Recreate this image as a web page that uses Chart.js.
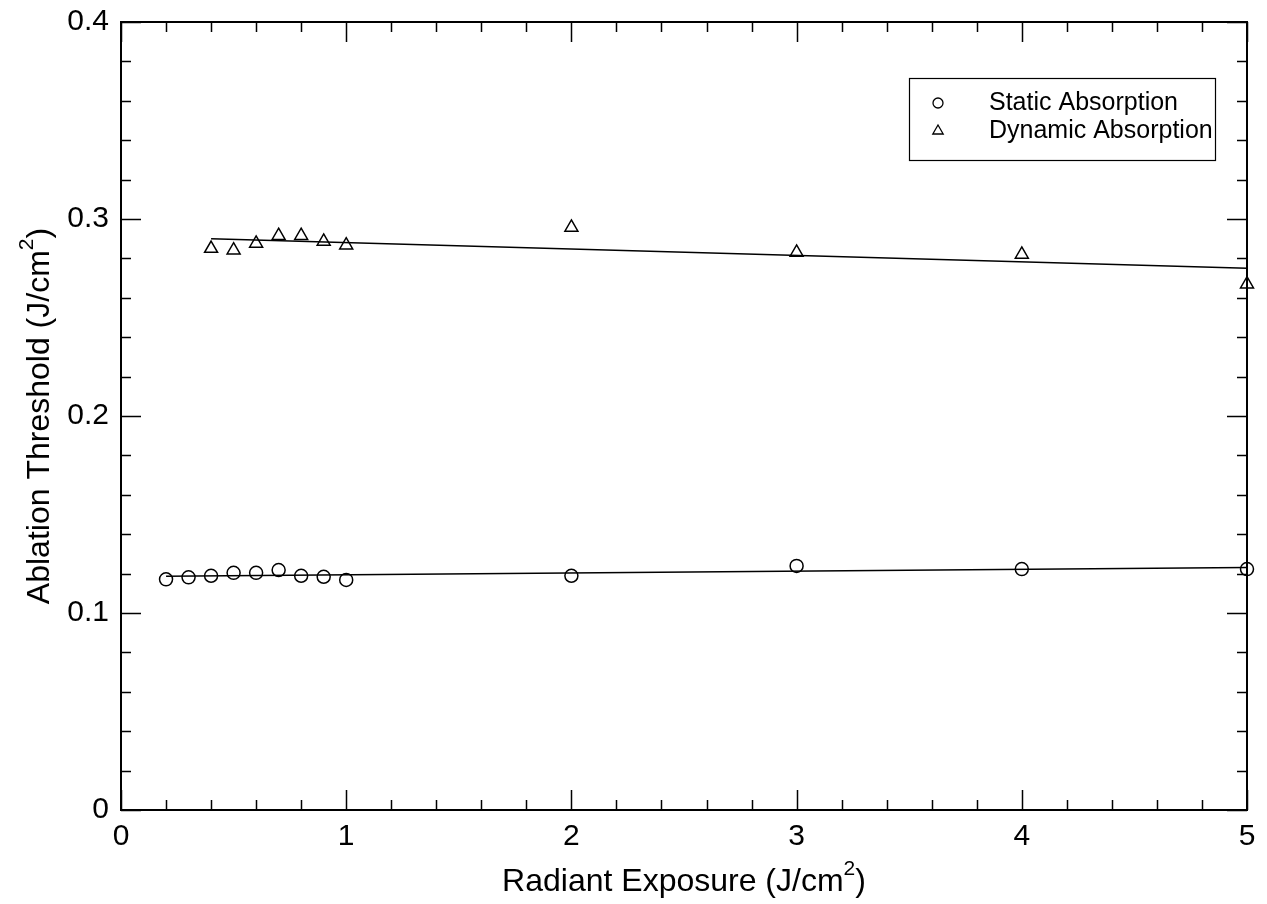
<!DOCTYPE html>
<html>
<head>
<meta charset="utf-8">
<script src="https://cdn.jsdelivr.net/npm/chart.js@4.4.0/dist/chart.umd.min.js"></script>
<style>
  body { margin: 0; background: #fff; }
  canvas { display: block; }
</style>
</head>
<body>
<canvas id="abl" width="1267" height="904"></canvas>
<script>
// data
const staticX = [0.2, 0.3, 0.4, 0.5, 0.6, 0.7, 0.8, 0.9, 1.0, 2, 3, 4, 5];
const staticY = [0.1171, 0.1181, 0.1189, 0.1204, 0.1204, 0.1218, 0.1189, 0.1184, 0.1168, 0.1189, 0.1239, 0.1223, 0.1223];
const dynamicX = [0.4, 0.5, 0.6, 0.7, 0.8, 0.9, 1.0, 2, 3, 4, 5];
const dynamicY = [0.2850, 0.2842, 0.2876, 0.2915, 0.2915, 0.2886, 0.2867, 0.2957, 0.2830, 0.2820, 0.2669];
// fitted lines (end points)
const staticFitX = [0.2, 5];
const staticFitY = [0.1186, 0.1231];
const dynamicFitX = [0.4, 5];
const dynamicFitY = [0.2900, 0.2750];

const xTicks = [0, 1, 2, 3, 4, 5];
const yTicks = [0, 0.1, 0.2, 0.3, 0.4];

const FONT = 'Arial, "Liberation Sans", sans-serif';

function pts(xs, ys) {
    return xs.map((x, i) => ({ x: x, y: ys[i] }));
}

// frame, inward ticks on all 4 sides, axis titles with superscript, legend
const decor = {
    id: 'decor',
    afterDraw(chart) {
        const ctx = chart.ctx;
        const a = chart.chartArea;
        const xs = chart.scales.x, ys = chart.scales.y;
        ctx.save();
        ctx.strokeStyle = '#000';
        ctx.lineWidth = 2;
        ctx.strokeRect(a.left, a.top, a.right - a.left, a.bottom - a.top);

        ctx.lineWidth = 1.5;
        ctx.beginPath();
        for (let v = 0; v <= 5.0001; v += 0.2) {
            const major = Math.abs(v - Math.round(v)) < 1e-6;
            const len = major ? 20 : 10;
            const px = Math.round(xs.getPixelForValue(v)) + 0.5;
            ctx.moveTo(px, a.bottom); ctx.lineTo(px, a.bottom - len);
            ctx.moveTo(px, a.top); ctx.lineTo(px, a.top + len);
        }
        for (let i = 0; i <= 20; i++) {
            const v = i * 0.02;
            const len = (i % 5 === 0) ? 20 : 10;
            const py = Math.round(ys.getPixelForValue(v)) + 0.5;
            ctx.moveTo(a.left, py); ctx.lineTo(a.left + len, py);
            ctx.moveTo(a.right, py); ctx.lineTo(a.right - len, py);
        }
        ctx.stroke();

        // axis titles
        ctx.fillStyle = '#000';
        function supText(parts, cx, cy) {
            const big = '32px ' + FONT, small = '21px ' + FONT;
            let w = 0;
            parts.forEach(p => {
                ctx.font = p.sup ? small : big;
                w += ctx.measureText(p.t).width;
            });
            let x = cx - w / 2;
            ctx.textBaseline = 'middle';
            ctx.textAlign = 'left';
            parts.forEach(p => {
                ctx.font = p.sup ? small : big;
                ctx.fillText(p.t, x, p.sup ? cy - 13 : cy);
                x += ctx.measureText(p.t).width;
            });
        }
        supText([{ t: 'Radiant Exposure (J/cm' }, { t: '2', sup: true }, { t: ')' }], (a.left + a.right) / 2, 882);
        ctx.save();
        ctx.translate(40, (a.top + a.bottom) / 2);
        ctx.rotate(-Math.PI / 2);
        supText([{ t: 'Ablation Threshold (J/cm' }, { t: '2', sup: true }, { t: ')' }], 0, 0);
        ctx.restore();

        // legend box
        ctx.lineWidth = 1.2;
        ctx.strokeRect(909.5, 78.5, 306, 82);
        ctx.font = '25px ' + FONT;
        ctx.textBaseline = 'middle';
        ctx.textAlign = 'left';
        chart.data.datasets.slice(0, 2).forEach((ds, i) => {
            const y = 103 + i * 28;
            ctx.fillStyle = '#fff';
            ctx.strokeStyle = '#000';
            ctx.lineWidth = 1.3;
            Chart.helpers.drawPoint(ctx, {
                pointStyle: ds.pointStyle, radius: ds.pointStyle === 'circle' ? 5 : 6,
                borderWidth: 1.3
            }, 938, y);
            ctx.fillStyle = '#000';
            ctx.fillText(ds.label, 989, y);
        });
        ctx.restore();
    }
};

new Chart(document.getElementById('abl').getContext('2d'), {
    type: 'scatter',
    data: {
        datasets: [{
            label: 'Static Absorption',
            data: pts(staticX, staticY),
            pointStyle: 'circle',
            pointRadius: 6.5,
            borderColor: '#000',
            backgroundColor: 'rgba(0,0,0,0)',
            borderWidth: 1.5,
            clip: false
        }, {
            label: 'Dynamic Absorption',
            data: pts(dynamicX, dynamicY),
            pointStyle: 'triangle',
            pointRadius: 7.5,
            borderColor: '#000',
            backgroundColor: 'rgba(0,0,0,0)',
            borderWidth: 1.5,
            clip: false
        }, {
            label: 'static fit',
            type: 'line',
            data: pts(staticFitX, staticFitY),
            borderColor: '#000',
            borderWidth: 1.5,
            pointRadius: 0,
            fill: false
        }, {
            label: 'dynamic fit',
            type: 'line',
            data: pts(dynamicFitX, dynamicFitY),
            borderColor: '#000',
            borderWidth: 1.5,
            pointRadius: 0,
            fill: false
        }]
    },
    options: {
        responsive: false,
        animation: false,
        layout: { padding: { top: 22, right: 20, left: 0, bottom: 0 } },
        plugins: { legend: { display: false }, tooltip: { enabled: false } },
        scales: {
            x: {
                type: 'linear',
                min: 0, max: 5,
                afterBuildTicks: s => { s.ticks = xTicks.map(v => ({ value: v })); },
                afterFit: s => { s.height = 94; s.paddingLeft = 0; s.paddingRight = 0; },
                grid: { display: false, drawTicks: false },
                border: { display: false },
                ticks: { color: '#000', padding: 9, font: { size: 30, family: FONT } }
            },
            y: {
                type: 'linear',
                min: 0, max: 0.4,
                afterBuildTicks: s => { s.ticks = yTicks.map(v => ({ value: v })); },
                afterFit: s => { s.width = 121; s.paddingTop = 0; s.paddingBottom = 0; },
                grid: { display: false, drawTicks: false },
                border: { display: false },
                ticks: { color: '#000', padding: 12, font: { size: 30, family: FONT } }
            }
        }
    },
    plugins: [decor]
});
</script>
</body>
</html>
